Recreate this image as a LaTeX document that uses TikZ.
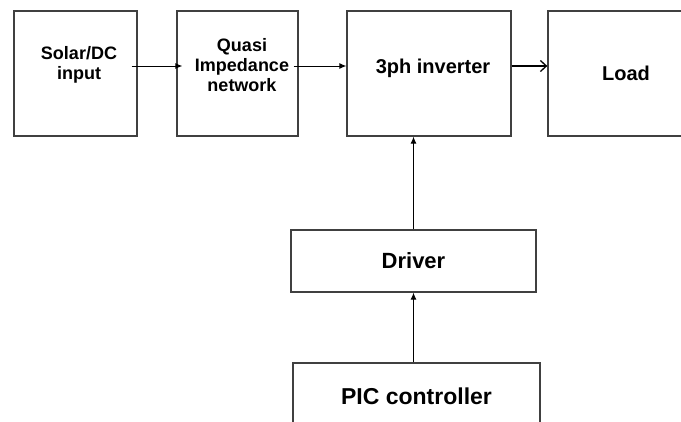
\documentclass[tikz,border=0pt]{standalone}
\usepackage{fontspec}
\setmainfont{Liberation Sans}
\usetikzlibrary{arrows.meta,positioning}

\begin{document}
\begin{tikzpicture}[x=1pt, y=-1pt, line width=1pt,
    block/.style = {draw=black!75, line width=1.3pt, inner sep=0pt},
    txt/.style = {font=\bfseries, align=center, inner sep=0pt},
    arr/.style = {-{Latex[length=7pt,width=6pt]}},
    open/.style = {-{Straight Barb[length=6pt,width=11pt,line width=1.3pt]}}]
          \useasboundingbox (0,0) rectangle (681,421);
          \clip (0,0) rectangle (681,421);
          % Define nodes
          \node[block, minimum width=123pt, minimum height=125pt] (solar) at (75.5,73.5) {};
          \node[block, minimum width=121pt, minimum height=125pt] (quasi) at (237.5,73.5) {};
          \node[block, minimum width=164pt, minimum height=125pt] (inv) at (429,73.5) {};
          \node[block, minimum width=156pt, minimum height=125pt, font=\bfseries\fontsize{20}{22}\selectfont] (load) at (626,73.5) {Load};
          \node[block, minimum width=245pt, minimum height=62pt, font=\bfseries\fontsize{22}{24}\selectfont] (drv) at (413.5,261) {Driver};
          \node[block, minimum width=247pt, minimum height=66pt, font=\bfseries\fontsize{23}{25}\selectfont] (pic) at (416.5,396) {PIC controller};
          \node[txt, font=\bfseries\fontsize{18}{20}\selectfont] (solartxt) at (79,65) {Solar/DC\\input};
          \node[txt, font=\bfseries\fontsize{18}{20}\selectfont] (quasitxt) at (242,65) {Quasi\\Impedance\\network};
          \node[txt, font=\bfseries\fontsize{20}{22}\selectfont, anchor=base] (invtxt) at (433,73) {3ph inverter};
          % Add edges
          \draw[arr, shorten <=-6pt, shorten >=-6pt] ([yshift=7.5pt]solar.east) -- ([yshift=7.5pt]quasi.west);
          \draw[arr, shorten <=-5pt] ([yshift=7.5pt]quasi.east) -- ([yshift=7.5pt]inv.west);
          \draw[open, line width=1.3pt] ([yshift=7.5pt]inv.east) -- ([yshift=7.5pt]load.west);
          \draw[arr] (drv.north) -- (drv.north |- inv.south);
          \draw[arr] (drv.south |- pic.north) -- (drv.south);
        \end{tikzpicture}
\end{document}
